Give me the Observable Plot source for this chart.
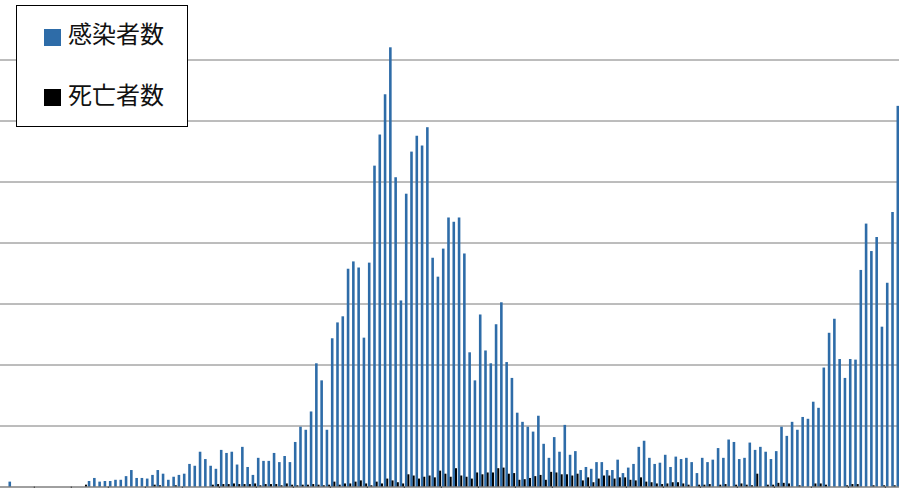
<!DOCTYPE html>
<html>
<head>
<meta charset="utf-8">
<script src="https://cdn.jsdelivr.net/npm/d3@7"></script>
<script src="https://cdn.jsdelivr.net/npm/@observablehq/plot@0.6"></script>
<style>
  html, body { margin: 0; padding: 0; background: #fff; }
  #wrap { position: relative; width: 899px; height: 488px; overflow: hidden; }
  #legend { position: absolute; left: 16px; top: 5px; width: 170px; height: 120px; border: 1px solid #000; background: #fff; font-family: "Noto Sans CJK JP", sans-serif; }
  .sw { position: absolute; width: 17px; height: 17px; }
  .lt { position: absolute; font-size: 24px; line-height: 24px; color: #111; white-space: nowrap; }
</style>
</head>
<body>
<div id="wrap"></div>
<script>
// Day index (visible categories)
const days = d3.range(171);
// 感染者数 (daily infections)
const cases = [
  0, 0, 8, 0, 0, 0, 0, 0, 0, 0,
  0, 0, 0, 0, 0, 0, 0, 9, 14, 8,
  9, 9, 11, 11, 17, 27, 14, 14, 13, 19,
  27, 21, 11, 16, 19, 21, 37, 34, 57, 45,
  34, 29, 60, 55, 57, 36, 65, 32, 19, 47,
  42, 42, 55, 40, 50, 40, 73, 98, 93, 123,
  202, 174, 93, 243, 269, 279, 357, 369, 359, 244,
  367, 526, 577, 643, 720, 507, 305, 480, 549, 575,
  559, 589, 375, 344, 390, 441, 434, 441, 382, 220,
  174, 282, 223, 202, 266, 302, 204, 178, 121, 106,
  98, 90, 116, 70, 47, 81, 57, 101, 52, 58,
  27, 32, 29, 40, 40, 27, 27, 44, 22, 31,
  37, 65, 75, 47, 37, 39, 52, 32, 49, 45,
  47, 40, 22, 47, 40, 44, 63, 47, 77, 73,
  45, 47, 72, 60, 65, 57, 45, 58, 98, 83,
  106, 93, 114, 111, 139, 129, 195, 252, 275, 209,
  178, 209, 208, 355, 431, 386, 409, 262, 334, 450,
  624
];
// 死亡者数 (daily deaths)
const deaths = [
  0, 0, 0, 0, 0, 0, 0, 0, 0, 0,
  0, 0, 0, 0, 0, 0, 3, 0, 0, 0,
  0, 0, 0, 0, 0, 0, 0, 0, 0, 3,
  2, 0, 0, 2, 0, 0, 0, 0, 0, 0,
  3, 4, 4, 4, 5, 4, 4, 4, 5, 2,
  4, 4, 4, 2, 5, 3, 2, 3, 3, 4,
  3, 2, 3, 8, 3, 5, 5, 8, 10, 5,
  2, 8, 5, 13, 10, 7, 5, 20, 18, 13,
  16, 18, 15, 26, 21, 16, 30, 18, 16, 13,
  23, 20, 23, 23, 30, 31, 21, 22, 11, 12,
  14, 17, 19, 11, 24, 23, 20, 20, 18, 21,
  10, 15, 7, 13, 18, 18, 13, 15, 15, 11,
  10, 15, 8, 7, 5, 4, 5, 7, 7, 5,
  3, 0, 3, 3, 4, 0, 3, 4, 0, 3,
  5, 3, 2, 21, 0, 3, 3, 6, 6, 5,
  0, 2, 0, 0, 5, 5, 3, 0, 0, 0,
  2, 4, 4, 0, 0, 2, 0, 2, 0, 2,
  0
];
// Horizontal gridline values and weekly tick categories
const gridValues = [100, 200, 300, 400, 500, 600, 700];
const tickDays = d3.range(7, 171, 7);

const seriesNames = ["感染者数", "死亡者数"];
const seriesColors = ["#2e6ca8", "#000000"];

const data = days.map(i => ({day: i, cases: cases[i], deaths: deaths[i]}));

const chart = Plot.plot({
  width: 899,
  height: 488,
  margin: 0,
  style: {background: "#fff"},
  x: {type: "band", domain: days, range: [-2.7, 901.2], padding: 0, round: false, axis: null},
  y: {domain: [0, 800], range: [486.5, -1.5], axis: null},
  marks: [
    Plot.ruleY(gridValues, {stroke: "#7a7a7a", strokeWidth: 1}),
    Plot.barY(data, {x: "day", y1: 0, y2: "cases", fill: seriesColors[0], insetLeft: 0.6, insetRight: 2.1}),
    Plot.barY(data, {x: "day", y1: 0, y2: "deaths", fill: seriesColors[1], insetLeft: 3.1, insetRight: 0.2}),
    Plot.ruleY([0], {stroke: "#404040", strokeWidth: 1}),
    Plot.barY(tickDays, {x: d => d, y1: 0, y2: -10, fill: "#404040", insetLeft: -0.5, insetRight: 4.79})
  ]
});

const wrap = document.getElementById("wrap");
wrap.appendChild(chart);

const legend = document.createElement("div");
legend.id = "legend";
const rows = [{sw: 22.5, tx: 15}, {sw: 83, tx: 75.5}];
seriesNames.forEach((name, k) => {
  const sw = document.createElement("div");
  sw.className = "sw";
  sw.style.left = "27px";
  sw.style.top = rows[k].sw + "px";
  sw.style.background = seriesColors[k];
  legend.appendChild(sw);
  const t = document.createElement("div");
  t.className = "lt";
  t.style.left = "51px";
  t.style.top = rows[k].tx + "px";
  t.textContent = name;
  legend.appendChild(t);
});
wrap.appendChild(legend);
</script>
</body>
</html>
